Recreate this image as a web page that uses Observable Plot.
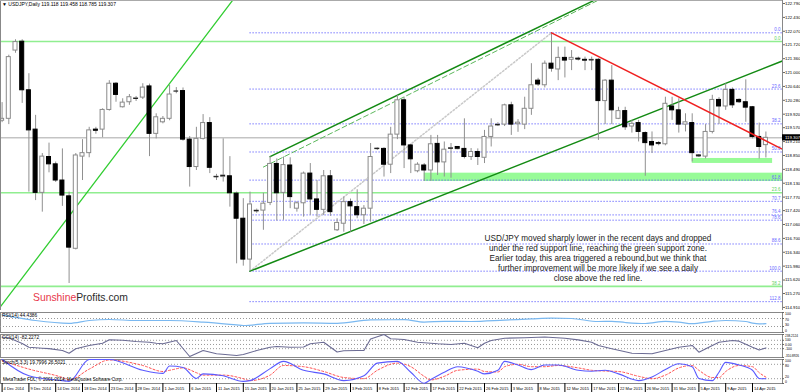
<!DOCTYPE html>
<html><head><meta charset="utf-8">
<script src="https://cdn.jsdelivr.net/npm/d3@7"></script>
<script src="https://cdn.jsdelivr.net/npm/@observablehq/plot@0.6"></script>
<style>
body{margin:0;background:#fff;}
#wrap{position:relative;width:800px;height:392px;overflow:hidden;font-family:"Liberation Sans",Arial,sans-serif;background:#fff;}
#wrap svg{position:absolute;left:0;}
.lbl{position:absolute;white-space:nowrap;}
</style></head><body><div id="wrap"></div>
<script>
// ---------- DATA ----------
const open  = [119.75,119.80,121.57,121.80,120.54,119.52,117.88,118.81,118.62,118.20,117.79,116.43,118.82,118.91,119.52,119.52,120.03,120.71,120.10,120.23,120.32,120.35,120.64,119.41,119.71,119.80,120.52,120.52,119.26,118.55,119.28,119.69,118.29,118.29,118.31,117.86,117.21,116.15,117.40,117.42,117.62,118.63,117.88,118.59,117.47,117.61,118.38,117.71,117.44,118.31,116.91,117.08,117.64,117.51,117.30,117.47,119.02,119.02,118.61,119.39,120.28,119.11,118.44,118.59,118.46,119.15,118.67,119.02,119.07,119.02,118.81,118.94,118.79,119.33,119.63,119.65,120.15,119.66,119.65,120.06,120.79,120.67,121.23,121.08,121.38,121.33,121.36,121.33,121.32,121.33,120.26,120.79,119.80,120.00,119.60,119.69,119.43,119.20,119.17,119.14,120.12,120.02,119.65,119.69,118.85,118.82,119.46,120.29,120.12,120.55,120.29,120.23,120.10,119.33,119.118];
const high  = [120.22,121.45,121.85,121.85,120.97,119.89,118.90,119.17,118.68,119.02,117.90,118.90,119.26,119.58,119.58,120.06,120.79,120.74,120.32,120.43,120.38,120.71,120.70,119.93,119.86,120.67,120.61,120.60,119.34,119.58,119.91,119.83,118.36,119.28,118.82,117.90,117.73,117.90,117.46,117.87,118.82,118.76,118.81,118.79,117.65,118.42,118.64,118.20,118.46,118.46,117.21,117.77,117.72,117.96,117.55,119.16,119.05,119.05,119.58,120.41,120.35,119.14,118.66,118.64,119.37,119.37,119.20,119.16,119.08,119.80,119.03,119.02,119.50,119.80,119.70,120.18,120.23,119.78,120.36,121.23,120.85,121.30,122.03,121.66,121.66,121.57,121.40,121.40,121.40,121.36,120.82,121.18,120.10,120.10,119.76,119.76,119.46,119.46,119.21,120.36,120.36,120.32,119.93,119.93,118.87,119.65,120.41,120.35,120.71,120.60,120.32,120.81,120.12,119.69,119.458];
const low   = [119.70,119.65,121.50,120.20,117.90,117.68,117.38,118.40,118.15,117.53,115.53,116.40,118.20,118.79,119.40,119.31,120.00,120.23,120.08,120.15,120.25,120.30,118.82,119.28,119.67,119.75,120.45,119.22,118.03,118.46,119.25,118.38,118.20,118.16,117.51,116.04,115.98,115.85,117.35,116.91,117.55,117.15,117.17,117.47,117.38,117.25,117.30,117.25,117.29,117.27,116.88,116.86,116.86,117.21,117.06,117.12,118.98,118.29,118.38,119.26,118.51,118.38,118.40,118.18,118.18,118.33,118.29,118.26,119.00,118.76,118.72,118.59,118.64,119.07,119.60,119.60,119.37,119.45,119.52,119.89,120.64,120.60,121.01,120.79,120.86,121.05,121.30,121.05,121.05,119.24,119.65,119.65,119.78,119.50,119.43,119.20,118.31,118.90,119.10,119.10,119.76,119.43,119.46,118.68,118.80,118.76,119.41,119.65,120.02,120.07,120.20,119.71,119.28,118.76,118.785];
const close = [119.80,121.40,121.79,120.54,119.50,117.88,118.82,118.62,118.20,117.81,116.46,118.85,118.91,119.50,119.50,120.03,120.71,120.42,120.22,120.36,120.33,120.61,119.41,119.84,119.80,120.43,120.52,119.26,118.55,119.28,119.69,118.53,118.30,118.33,117.87,117.21,116.15,117.58,117.42,117.60,118.63,117.87,118.60,117.77,117.61,118.38,117.71,117.44,118.31,117.38,117.10,117.64,117.53,117.30,117.47,118.81,119.03,118.61,119.39,120.28,119.11,118.75,118.61,118.46,119.14,118.67,119.00,119.04,119.03,118.81,118.94,118.81,119.33,119.60,119.65,120.15,119.65,119.70,120.06,120.67,120.69,121.23,121.10,121.38,121.31,121.38,121.35,121.32,121.33,120.26,120.79,120.02,120.00,119.58,119.67,119.46,119.17,119.11,119.16,120.19,120.02,119.65,119.71,118.91,118.84,119.46,120.29,120.12,120.55,120.15,120.23,120.09,119.33,119.07,119.307];

const dateLabels = ["4 Dec 2014","9 Dec 2014","14 Dec 2014","18 Dec 2014","23 Dec 2014","28 Dec 2014","1 Jan 2015","6 Jan 2015","11 Jan 2015","15 Jan 2015","20 Jan 2015","25 Jan 2015","29 Jan 2015","3 Feb 2015","8 Feb 2015","12 Feb 2015","17 Feb 2015","22 Feb 2015","26 Feb 2015","3 Mar 2015","8 Mar 2015","12 Mar 2015","17 Mar 2015","22 Mar 2015","26 Mar 2015","31 Mar 2015","5 Apr 2015","9 Apr 2015","14 Apr 2015"];
const priceTicks = [122.790,122.430,122.070,121.720,121.360,121.000,120.640,120.280,119.920,119.570,119.210,118.850,118.490,118.130,117.770,117.420,117.060,116.700,116.340,115.980,115.620,115.270,114.910];
const lastPrice = 119.307;

// Fibonacci retracements
const blueFibAnchor = {from: 37, low: 115.85, high: 122.03};
const blueFibLevels = [0, 23.6, 38.2, 50, 61.8, 70.7, 76.4, 78.6, 88.6, 100, 112.8];
const greenFibPrices = [121.805, 117.883, 115.455];
const greenFibLabels = ["0.0", "23.6", "38.2"];

// support zones
const zoneFrom = [63, 103], zoneTo = [117, 115], zoneLow = [118.176, 118.643], zoneHigh = [118.391, 118.772];

// trend lines (bar index, price)
const limeLine   = [{i: -0.24, p: 114.93}, {i: 34.4, p: 122.87}];
const upperLine  = [{i: 40, p: 118.82}, {i: 88.2, p: 122.86}];
const dashedLine = [{i: 39, p: 118.55}, {i: 88.8, p: 122.86}];
const lowerLine  = [{i: 37, p: 115.85}, {i: 116.6, p: 121.31}];
const fibDiag    = [{i: 37, p: 115.85}, {i: 82, p: 122.03}];
const redLine    = [{i: 82, p: 122.03}, {i: 116.6, p: 119.00}];

// indicators (bar index, value)
const rsiIdx = [0,2,5,10,13,16,20,25,30,35,36,40,45,50,55,60,63,66,70,75,79,82,85,89,91,93,96,99,101,103,106,108,111,112,113,114];
const rsiVal = [88,76,60,46,60,65,60,60,52,38,35,46,48,46,63,64,52,56,55,62,68,72,70,55,56,50,45,56,52,44,56,60,55,47,43,44.4386];
const cciIdx = [0,1,3,4,6,7,9,10,11,13,15,16,18,20,22,23,24,26,28,30,32,35,36,38,40,41,43,45,46,48,50,51,53,54,55,57,58,60,62,65,67,69,70,71,72,73,75,78,81,84,86,88,89,91,94,97,99,101,103,104,106,107,109,110,112,113,114];
const cciVal = [174,160,23,-65,-89,-100,-144,-208,-103,-24,30,112,100,71,54,30,16,95,-287,-144,-222,-263,-240,-144,-65,-50,-65,-60,16,54,-180,-150,-144,-144,130,238,135,120,54,16,0,30,-24,-79,30,95,150,160,180,150,110,54,-24,-103,-208,-222,-144,-65,-24,-184,-24,54,95,80,-65,-130,-82.2272];
const stochIdx = [0,4,9,10,13,16,21,24,25,27,29,30,33,36,37,40,42,45,48,51,54,56,59,61,63,64,66,68,71,72,74,75,77,79,81,83,86,88,90,92,95,97,99,101,103,104,106,107,108,110,112,113,114];
const stochK = [100,32,12,9,100,100,55,42,73,67,21,40,32,9,12,62,92,55,40,12,32,85,92,47,1,17,47,70,51,40,55,92,77,58,77,77,55,51,55,40,12,27,58,82,70,21,12,47,88,77,55,21,19.7996];
const stochD = [95,60,25,15,60,98,75,50,55,65,45,35,35,20,12,35,75,70,50,25,20,55,85,70,30,15,30,55,60,50,48,70,80,70,70,75,65,55,52,50,30,20,35,65,75,55,25,25,50,75,70,45,26.5021];

// ---------- DRAW ----------
const wrap = document.getElementById("wrap");
const xDomain = [(0 - 1.6) / 6.7, (782 - 1.6) / 6.7];
const font = "'Liberation Sans', Arial, sans-serif";
const bars = open.map((o, i) => ({i, o, h: high[i], l: low[i], c: close[i], up: close[i] >= o}));

function place(svg, top) {
  svg.style.position = "absolute";
  svg.style.top = top + "px";
  svg.style.left = "0px";
  svg.style.overflow = "visible";
  wrap.appendChild(svg);
}
function label(text, left, top, css) {
  const d = document.createElement("div");
  d.className = "lbl";
  d.textContent = text;
  d.style.left = left + "px"; d.style.top = top + "px";
  Object.assign(d.style, css || {});
  wrap.appendChild(d);
  return d;
}
const base = {width: 800, marginLeft: 0, marginRight: 18, marginTop: 0, marginBottom: 0,
  style: {fontFamily: font, fontSize: "5px", background: "transparent", overflow: "visible", color: "#000"}};

const fibPrice = lv => blueFibAnchor.high - lv / 100 * (blueFibAnchor.high - blueFibAnchor.low);
const fibRows = blueFibLevels.map(lv => ({lv, p: fibPrice(lv)}));
const zones = zoneFrom.map((f, k) => ({f, t: zoneTo[k], lo: zoneLow[k], hi: zoneHigh[k]}));

const main = Plot.plot({...base, height: 310,
  x: {domain: xDomain, axis: null},
  y: {domain: [114.83, 122.868], axis: null},
  marks: [
    Plot.rect(zones, {x1: "f", x2: "t", y1: "lo", y2: "hi", fill: "#98fb98", clip: true}),
    Plot.ruleY(greenFibPrices, {stroke: "#90ee90", strokeWidth: 1.6}),
    Plot.text(greenFibPrices, {y: d => d, x: xDomain[1], text: (d, k) => greenFibLabels[k], textAnchor: "end", dx: -2, dy: -3, fill: "#5fd35f", fontSize: 4.5}),
    Plot.ruleY(fibRows, {y: "p", x1: blueFibAnchor.from, x2: xDomain[1], stroke: "#5a5aff", strokeDasharray: "1.2,1.8", strokeWidth: 1}),
    Plot.text(fibRows, {y: "p", x: xDomain[1], text: d => d.lv.toFixed(1), textAnchor: "end", dx: -2, dy: -3, fill: "#6a6aff", fontSize: 4.5}),
    Plot.ruleY([lastPrice], {stroke: "#a8a8a8"}),
    Plot.line(fibDiag, {x: "i", y: "p", stroke: "#c8c8c8", strokeDasharray: "1.5,2"}),
    Plot.line(limeLine, {x: "i", y: "p", stroke: "#32cd32", strokeWidth: 1.3, clip: true}),
    Plot.line(dashedLine, {x: "i", y: "p", stroke: "#5cb85c", strokeWidth: 1, strokeDasharray: "5,3", clip: true}),
    Plot.line(upperLine, {x: "i", y: "p", stroke: "#138a13", strokeWidth: 1.5, clip: true}),
    Plot.line(lowerLine, {x: "i", y: "p", stroke: "#138a13", strokeWidth: 1.5, clip: true}),
    Plot.ruleX(bars, {x: "i", y1: "l", y2: "h", stroke: "#909090", strokeWidth: 1}),
    Plot.rect(bars, {x1: d => d.i - 0.3, x2: d => d.i + 0.3, y1: "o", y2: "c",
      fill: d => d.up ? "#fff" : "#000", stroke: d => d.up ? "#8a8a8a" : "#000", strokeWidth: 1}),
    Plot.ruleY(bars.filter(d => Math.abs(d.o - d.c) < 0.04), {y: "c", x1: d => d.i - 0.35, x2: d => d.i + 0.35, stroke: "#222", strokeWidth: 1.2}),
    Plot.line(redLine, {x: "i", y: "p", stroke: "#f02020", strokeWidth: 1.5, clip: true}),
    Plot.ruleX([xDomain[1]], {stroke: "#888"}),
    Plot.ruleX([xDomain[0]], {stroke: "#888"}),
    Plot.ruleY([122.868], {stroke: "#aaa"}),
    Plot.axisY(priceTicks, {anchor: "right", tickSize: 2, tickPadding: 0.5, fontSize: 4.3, tickFormat: d => d.toFixed(3), stroke: "#666"}),
    Plot.rect([lastPrice], {x1: xDomain[1], x2: xDomain[1] + 18 / 6.7, y1: d => d - 0.08, y2: d => d + 0.08, fill: "#000", clip: false}),
    Plot.text([lastPrice], {x: xDomain[1], y: d => d, text: d => d.toFixed(3), textAnchor: "start", dx: 2.5, fill: "#fff", fontSize: 4.3})
  ]
});
place(main, 0);

// sub-window: ticks = [{v, t, a}] with a = label anchor ("top" | "middle" | "bottom"), fs = font size
function sub(top, height, yDomain, ticks, marks, title) {
  const xr = xDomain[1];
  const group = a => ticks.filter(d => d.a === a);
  const svg = Plot.plot({...base, height,
    x: {domain: xDomain, axis: null},
    y: {domain: yDomain, axis: null},
    marks: [
      Plot.frame({stroke: "#888"}),
      ...marks,
      Plot.ruleY(ticks, {y: "v", x1: xr, x2: xr + 2 / 6.7, stroke: "#666"}),
      ...["top", "middle", "bottom"].map(a => Plot.text(group(a), {x: xr, y: "v", text: "t", textAnchor: "start", lineAnchor: a,
        dx: 2.5, dy: a === "top" ? 0.3 : a === "bottom" ? -0.3 : 0, fontSize: d => d.fs}))
    ]
  });
  place(svg, top);
  label(title, 2, top + 0.5, {fontSize: "4.8px", color: "#000"});
}

// RSI
sub(312, 20, [0, 100], [
  {v: 100, t: "100", a: "top", fs: 3.5}, {v: 70, t: "70", a: "top", fs: 3.5},
  {v: 30, t: "30", a: "bottom", fs: 3.5}, {v: 0, t: "0", a: "bottom", fs: 3.5}], [
  Plot.ruleY([70, 30], {stroke: "#999", strokeDasharray: "1,2"}),
  Plot.line(rsiIdx.map((i, k) => ({i, v: rsiVal[k]})), {x: "i", y: "v", stroke: "#7ab8f0", strokeWidth: 1.2, curve: "monotone-x"})
], "RSI(14) 44.4386");

// CCI
sub(334, 23, [-310.8926, 238.2124], [
  {v: 238.2124, t: "238.2124", a: "top", fs: 3.1}, {v: 100, t: "100", a: "middle", fs: 3.4},
  {v: 0, t: "0.00", a: "middle", fs: 3.4}, {v: -100, t: "-100", a: "middle", fs: 3.4},
  {v: -310.8926, t: "-310.8926", a: "bottom", fs: 3.1}], [
  Plot.ruleY([100, 0, -100], {stroke: "#999", strokeDasharray: "1,2"}),
  Plot.line(cciIdx.map((i, k) => ({i, v: cciVal[k]})), {x: "i", y: "v", stroke: "#6c6c94", strokeWidth: 1.1})
], "CCI(14) -82.2272");

// Stochastic
sub(359, 24, [0, 100], [
  {v: 100, t: "100", a: "top", fs: 3.5}, {v: 80, t: "80", a: "top", fs: 3.5},
  {v: 20, t: "20", a: "bottom", fs: 3.5}, {v: 0, t: "0", a: "bottom", fs: 3.5}], [
  Plot.ruleY([80, 20], {stroke: "#999", strokeDasharray: "1,2"}),
  Plot.line(stochIdx.map((i, k) => ({i, v: stochD[k]})), {x: "i", y: "v", stroke: "#ff5050", strokeWidth: 1, strokeDasharray: "2,2", curve: "monotone-x"}),
  Plot.line(stochIdx.map((i, k) => ({i, v: stochK[k]})), {x: "i", y: "v", stroke: "#5a5aff", strokeWidth: 1.1, curve: "monotone-x"})
], "Stoch(5,3,3) 19.7996 26.5021");
label("MetaTrader FDL, © 2001-2014, MetaQuotes Software Corp.", 3, 377, {fontSize: "4.5px", color: "#000"});

// date axis
const dateAxis = Plot.plot({...base, height: 9,
  x: {domain: xDomain, axis: null},
  marks: [
    Plot.ruleX(dateLabels, {x: (d, k) => k * 4, y1: 0, y2: 3, stroke: "#000"}),
    Plot.text(dateLabels, {x: (d, k) => k * 4, text: d => d, textAnchor: "start", dx: 1.5, frameAnchor: "middle", dy: 1, fontSize: 4, fill: "#000"})
  ]
});
place(dateAxis, 383);

// header, logo, annotation
label("\u25BC USDJPY,Daily  119.118 119.458 118.785 119.307", 2, 0.5, {fontSize: "5px", color: "#000"});
const logo = label("", 33, 291, {fontSize: "11.5px", fontFamily: font, transform: "scaleX(0.9)", transformOrigin: "0 0"});
logo.innerHTML = '<span style="color:#e8374b">Sunshine</span><span style="color:#2b2b2b">Profits.com</span>';
const note = document.createElement("div");
note.className = "lbl";
Object.assign(note.style, {left: "398px", top: "233px", width: "400px", textAlign: "center", fontSize: "9.3px", lineHeight: "10px", color: "#222", whiteSpace: "normal", transform: "scaleX(0.88)", transformOrigin: "200px 0"});
note.innerHTML = "USD/JPY moved sharply lower in the recent days and dropped<br>under the red support line, reaching the green support zone.<br>Earlier today, this area triggered a rebound,but we think that<br>further improvement will be more likely if we see a daily<br>close above the red line.";
wrap.appendChild(note);
</script></body></html>
